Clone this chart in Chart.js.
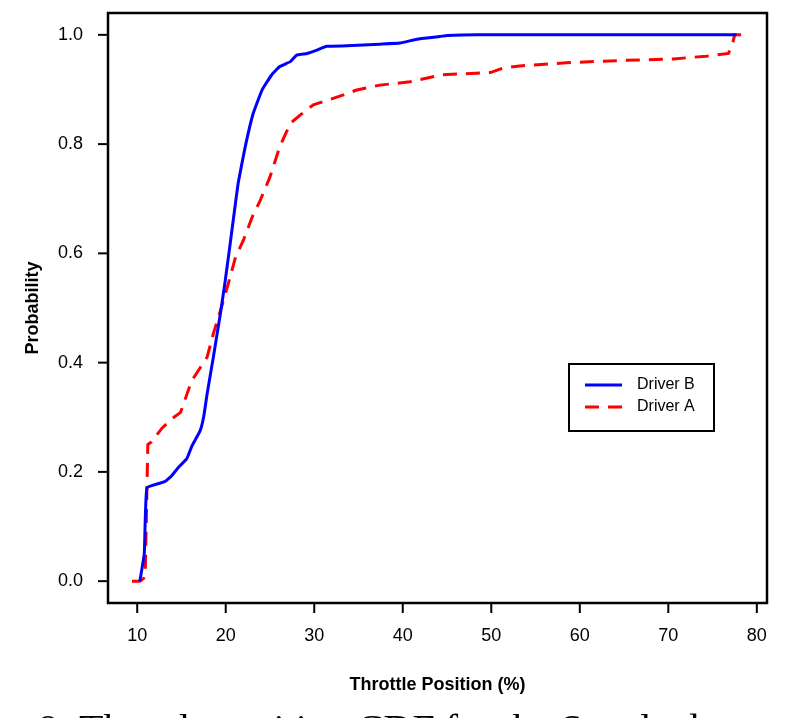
<!DOCTYPE html>
<html>
<head>
<meta charset="utf-8">
<script src="https://cdn.jsdelivr.net/npm/chart.js@4"></script>
<style>
	html,body{margin:0;padding:0;background:#fff;overflow:hidden;}
	#wrap{width:785px;height:718px;position:relative;}
</style>
</head>
<body>
<div id="wrap"><canvas id="ctx" width="785" height="718"></canvas></div>
<script>
var driverBX = [10.3, 10.8, 11.1, 13.1, 13.9, 14.7, 15.6, 16.2, 17.1, 17.5, 17.9, 18.6, 19.4, 19.9, 20.4, 20.9, 21.4, 22.2, 23.1, 24.1, 25.2, 26.1, 27.3, 28.0, 29.2, 30.3, 31.4, 33.7, 37.4, 39.7, 41.6, 44.2, 45.0, 48.4, 77.7];
var driverBY = [0.0, 0.05, 0.171, 0.182, 0.193, 0.209, 0.224, 0.248, 0.275, 0.30, 0.343, 0.41, 0.49, 0.545, 0.605, 0.667, 0.728, 0.795, 0.856, 0.899, 0.927, 0.942, 0.951, 0.963, 0.966, 0.972, 0.979, 0.980, 0.983, 0.985, 0.992, 0.997, 0.999, 1.0, 1.0];

// Driver A (dashed red)
var driverAX = [9.4, 10.3, 10.9, 11.2, 11.6, 12.8, 13.9, 14.9, 16.0, 16.4, 17.9, 18.6, 19.4, 20.3, 21.1, 22.0, 23.0, 23.9, 25.0, 26.1, 27.3, 28.4, 29.9, 31.8, 33.3, 34.8, 37.4, 40.8, 44.5, 49.9, 51.3, 53.2, 58.5, 64.5, 70.6, 74.3, 76.8, 77.3, 77.5, 78.4];
var driverAY = [0.0, 0.0, 0.007, 0.25, 0.255, 0.28, 0.297, 0.309, 0.36, 0.373, 0.41, 0.453, 0.495, 0.545, 0.593, 0.624, 0.667, 0.697, 0.74, 0.795, 0.838, 0.853, 0.872, 0.882, 0.89, 0.899, 0.908, 0.914, 0.927, 0.931, 0.939, 0.943, 0.949, 0.953, 0.956, 0.961, 0.966, 0.987, 1.0, 1.0];

var xTicks = [10, 20, 30, 40, 50, 60, 70, 80];
var yTicks = [0, 0.2, 0.4, 0.6, 0.8, 1.0];
var yTickLabels = ['0.0', '0.2', '0.4', '0.6', '0.8', '1.0'];

var seriesNames = ['Driver B', 'Driver A'];
var xTitle = 'Throttle Position (%)';
var yTitle = 'Probability';
var caption = 'Figure 8: Throttle position CDF for the Seattle data';

function points(xs, ys){
	var out = [];
	for(var i = 0; i < xs.length; i++){
		out.push({x: xs[i], y: ys[i]});
	}
	return out;
}

var FONT = '"Liberation Sans", Arial, Helvetica, sans-serif';

// frame, ticks, labels, legend drawn R-style on top of the chart area
var basePlot = {
	id: 'basePlot',
	afterDraw: function(chart){
		var c = chart.ctx;
		var a = chart.chartArea;
		var sx = chart.scales.x;
		var sy = chart.scales.y;

		c.save();
		c.strokeStyle = '#000';
		c.fillStyle = '#000';

		// box
		c.lineWidth = 2.5;
		c.strokeRect(a.left, a.top, a.right - a.left, a.bottom - a.top);

		// x ticks
		c.lineWidth = 2;
		c.font = '18px ' + FONT;
		c.textAlign = 'center';
		c.textBaseline = 'middle';
		xTicks.forEach(function(v){
			var px = sx.getPixelForValue(v);
			c.beginPath();
			c.moveTo(px, a.bottom);
			c.lineTo(px, a.bottom + 10);
			c.stroke();
			c.fillText(String(v), px, a.bottom + 33);
		});

		// y ticks
		c.textAlign = 'right';
		yTicks.forEach(function(v, i){
			var py = sy.getPixelForValue(v);
			c.beginPath();
			c.moveTo(a.left, py);
			c.lineTo(a.left - 10, py);
			c.stroke();
			c.fillText(yTickLabels[i], a.left - 25, py);
		});

		// axis titles
		c.font = 'bold 18px ' + FONT;
		c.textAlign = 'center';
		c.fillText(xTitle, (a.left + a.right) / 2, 685);
		c.save();
		c.translate(33, (a.top + a.bottom) / 2);
		c.rotate(-Math.PI / 2);
		c.fillText(yTitle, 0, 0);
		c.restore();

		// legend
		var lx = 569, ly = 364, lw = 145, lh = 67;
		c.lineWidth = 2;
		c.strokeRect(lx, ly, lw, lh);
		chart.data.datasets.forEach(function(ds, i){
			var yy = ly + 21 + i * 22;
			c.save();
			c.strokeStyle = ds.borderColor;
			c.lineWidth = 3;
			c.setLineDash(ds.borderDash || []);
			c.beginPath();
			c.moveTo(lx + 16, yy);
			c.lineTo(lx + 53, yy);
			c.stroke();
			c.restore();
			c.font = '16px ' + FONT;
			c.textAlign = 'left';
			c.fillStyle = '#000';
			c.fillText(ds.label, lx + 68, yy);
		});

		// caption, cut off by the bottom edge
		c.font = '40px "Liberation Serif", "DejaVu Serif", serif';
		c.textAlign = 'left';
		c.textBaseline = 'alphabetic';
		var off = c.measureText('Figure ').width;
		c.fillText(caption, 38 - off, 742);

		c.restore();
	}
};

new Chart(document.getElementById('ctx'), {
	type: 'scatter',
	data: {
		datasets: [{
			label: seriesNames[0],
			data: points(driverBX, driverBY),
			showLine: true,
			borderColor: '#0000ff',
			borderWidth: 3,
			pointRadius: 0,
			tension: 0.1,
			fill: false
		}, {
			label: seriesNames[1],
			data: points(driverAX, driverAY),
			showLine: true,
			borderColor: '#ff0000',
			borderWidth: 3,
			borderDash: [14, 9],
			pointRadius: 0,
			tension: 0,
			fill: false
		}]
	},
	options: {
		responsive: false,
		animation: false,
		layout: {padding: {left: 108, right: 18, top: 13, bottom: 115}},
		plugins: {legend: {display: false}, tooltip: {enabled: false}},
		scales: {
			x: {type: 'linear', min: 6.7, max: 81.15, display: false},
			y: {type: 'linear', min: -0.04, max: 1.04, display: false}
		}
	},
	plugins: [basePlot]
});
</script>
</body>
</html>
